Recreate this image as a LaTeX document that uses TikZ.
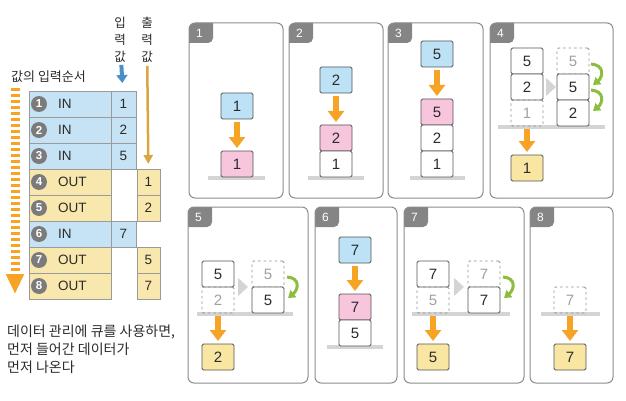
\documentclass[tikz,border=0pt]{standalone}
\usepackage{fontspec}
\setmainfont{Liberation Sans}
\newfontfamily\krfont{Noto Sans CJK KR}
\usetikzlibrary{arrows.meta}

\definecolor{tblblue}{HTML}{C5E3F4}
\definecolor{tblyellow}{HTML}{F9E8AE}
\definecolor{boxblue}{HTML}{BDE2F6}
\definecolor{boxpink}{HTML}{F7C5DC}
\definecolor{boxyellow}{HTML}{F8E6A2}
\definecolor{orng}{HTML}{F6A326}
\definecolor{gold}{HTML}{D9A63F}
\definecolor{arrblue}{HTML}{4B8FC7}
\definecolor{leaf}{HTML}{8CBD3C}
\definecolor{panelline}{HTML}{8C8C8C}
\definecolor{tabgray}{HTML}{858585}
\definecolor{shelfgray}{HTML}{D4D4D4}
\definecolor{circgray}{HTML}{7B7B7B}
\definecolor{boxline}{HTML}{555555}
\definecolor{cellline}{HTML}{9A9A9A}
\definecolor{ghostline}{HTML}{909090}
\definecolor{ghosttext}{HTML}{A0A0A0}
\definecolor{darktext}{HTML}{2B2B2B}

\tikzset{
  qbox/.style={draw=boxline, line width=0.9pt, rounded corners=1.5pt,
    minimum width=32pt, minimum height=26pt, inner sep=0pt, outer sep=0pt,
    font=\fontsize{15}{15}\selectfont, text=darktext},
  qblue/.style={qbox, fill=boxblue},
  qpink/.style={qbox, fill=boxpink},
  qyel/.style={qbox, fill=boxyellow},
  qwhite/.style={qbox, fill=white},
  qghost/.style={qbox, draw=ghostline, dash pattern=on 2.5pt off 3pt, text=ghosttext},
  putarr/.style={draw=orng, line width=6.5pt, -{Triangle[width=16pt,length=11pt]},
    shorten <=3pt, shorten >=3pt},
  greenarr/.style={draw=leaf, line width=3pt, -{Triangle[width=9pt,length=7pt]}},
  shelf/.style={draw=shelfgray, line width=4pt},
  tri/.style={fill=shelfgray},
  panel/.style={draw=panelline, line width=1pt, rounded corners=6pt, inner sep=0pt,
    path picture={\fill[tabgray, rounded corners=5pt]
      ([shift={(-8pt,8pt)}]path picture bounding box.north west) rectangle
      ([shift={(24pt,-20pt)}]path picture bounding box.north west);}},
  tabnum/.style={text=white, font=\fontsize{12}{12}\selectfont, inner sep=0pt},
  rowcell/.style={draw=cellline, line width=0.6pt, minimum height=26pt, inner sep=0pt,
    outer sep=0pt, font=\fontsize{13.5}{13.5}\selectfont, text=darktext},
  numcirc/.style={circle, fill=circgray, minimum size=16pt, inner sep=0pt, text=white,
    font=\fontsize{11.5}{11.5}\selectfont\bfseries},
  optext/.style={anchor=west, inner sep=0pt, font=\fontsize{13.5}{13.5}\selectfont, text=darktext},
  krtext/.style={font=\krfont\fontsize{14}{18}\selectfont, text=darktext, inner sep=0pt},
  krhead/.style={krtext, font=\krfont\fontsize{12.5}{17}\selectfont, align=center}
}

\begin{document}
\begin{tikzpicture}[x=1pt,y=-1pt]
\useasboundingbox (0,0) rectangle (626,401);

% table of operations
\node[krtext, anchor=west, font=\krfont\fontsize{13}{13}\selectfont] (ordlabel) at (11,77) {값의 입력순서};
\node[krhead] (inhdr) at (120,40) {입\\력\\값};
\node[krhead] (outhdr) at (147,40) {출\\력\\값};
\foreach \i/\v in {1/1, 2/2, 3/5, 6/7}{
  \node[rowcell, fill=tblblue, minimum width=82pt] (lab\i) at (70,{78+26*\i}) {};
  \node[rowcell, fill=tblblue, minimum width=25pt] (in\i) at (123.5,{78+26*\i}) {\v};
  \node[optext] (op\i) at (58,{78+26*\i}) {IN};}
\foreach \i/\v in {4/1, 5/2, 7/5, 8/7}{
  \node[rowcell, fill=tblyellow, minimum width=82pt] (lab\i) at (70,{78+26*\i}) {};
  \node[rowcell, fill=tblyellow, minimum width=23pt] (out\i) at (148.5,{78+26*\i}) {\v};
  \node[optext] (op\i) at (58,{78+26*\i}) {OUT};}
\foreach \i in {1,...,8}
  \node[numcirc] (circ\i) at (39,{78+26*\i}) {\i};
\draw[draw=arrblue, line width=4pt, -{Triangle[width=11pt,length=8pt]},
  shorten <=2pt, shorten >=8pt] (inhdr) -- (in1);
\draw[draw=gold, line width=2.5pt, -{Triangle[width=9pt,length=9pt]},
  shorten <=3pt, shorten >=5pt] (outhdr) -- (out4);
\coordinate (ordtop) at (15,88);
\coordinate (ordbot) at (15,294);
\draw[draw=orng, line width=9pt, dash pattern=on 3pt off 3pt,
  -{Triangle[width=17pt,length=20pt]}] (ordtop) -- (ordbot);
\node[krtext, anchor=north west, align=left] (note) at (7,325)
  {데이터 관리에 큐를 사용하면,\\먼저 들어간 데이터가\\먼저 나온다};

% panels
\foreach \n/\cx/\cy/\w/\h in {1/236/110.5/94/175, 2/336/110.5/94/175, 3/435.5/110.5/95/175,
  4/551.5/110.5/123/175, 5/248/295/120/176, 6/356/295/82/176, 7/464/295/120/176,
  8/571.5/295/83/176}{
  \node[panel, minimum width=\w pt, minimum height=\h pt] (pan\n) at (\cx,\cy) {};
  \node[tabnum] (tab\n) at ([shift={(11pt,-10.5pt)}]pan\n.north west) {\n};}

% 1
\draw[shelf] (208,178) -- (265,178);
\node[qblue] (p1in) at (237,106) {1};
\node[qpink] (p1a) at (237,164) {1};
\draw[putarr] (p1in) -- (p1a);
% 2
\draw[shelf] (308,178) -- (364,178);
\node[qblue] (p2in) at (336,80) {2};
\node[qpink] (p2b) at (336,138) {2};
\node[qwhite] (p2a) at (336,164) {1};
\draw[putarr] (p2in) -- (p2b);
% 3
\draw[shelf] (410,178) -- (465,178);
\node[qblue] (p3in) at (437,54) {5};
\node[qpink] (p3c) at (437,112) {5};
\node[qwhite] (p3b) at (437,138) {2};
\node[qwhite] (p3a) at (437,164) {1};
\draw[putarr] (p3in) -- (p3c);
% 4
\draw[shelf] (498,127) -- (605,127);
\fill[tri] (546,78) -- (556,87) -- (546,96) -- cycle;
\node[qwhite] (p4l5) at (527,61) {5};
\node[qwhite] (p4l2) at (527,87) {2};
\node[qghost] (p4g1) at (527,113) {1};
\node[qghost] (p4g5) at (573,61) {5};
\node[qwhite] (p4w5) at (573,87) {5};
\node[qwhite] (p4w2) at (573,113) {2};
\node[qyel] (p4out) at (527,168) {1};
\draw[putarr] (p4g1) -- (p4out);
\draw[greenarr] ([shift={(2pt,-3pt)}]p4g5.east) .. controls +(14,1) and +(10,-8) .. ([shift={(4pt,2pt)}]p4w5.east);
\draw[greenarr] ([shift={(2pt,-3pt)}]p4w5.east) .. controls +(14,1) and +(10,-8) .. ([shift={(4pt,2pt)}]p4w2.east);
% 5
\draw[shelf] (197,314) -- (293,314);
\fill[tri] (238,278) -- (248,287) -- (238,296) -- cycle;
\node[qwhite] (p5l5) at (218,274) {5};
\node[qghost] (p5g2) at (218,300) {2};
\node[qghost] (p5g5) at (268,274) {5};
\node[qwhite] (p5w5) at (268,300) {5};
\node[qyel] (p5out) at (218,357) {2};
\draw[putarr] (p5g2) -- (p5out);
\draw[greenarr] ([shift={(3pt,-3pt)}]p5g5.east) .. controls +(14,1) and +(10,-8) .. ([shift={(4pt,2pt)}]p5w5.east);
% 6
\draw[shelf] (327,347) -- (383,347);
\node[qblue] (p6in) at (355,250) {7};
\node[qpink] (p6b) at (355,307) {7};
\node[qwhite] (p6a) at (355,333) {5};
\draw[putarr] (p6in) -- (p6b);
% 7
\draw[shelf] (412,314) -- (510,314);
\fill[tri] (454,278) -- (464,287) -- (454,296) -- cycle;
\node[qwhite] (p7l7) at (433,274) {7};
\node[qghost] (p7g5) at (433,300) {5};
\node[qghost] (p7g7) at (484,274) {7};
\node[qwhite] (p7w7) at (484,300) {7};
\node[qyel] (p7out) at (433,357) {5};
\draw[putarr] (p7g5) -- (p7out);
\draw[greenarr] ([shift={(3pt,-3pt)}]p7g7.east) .. controls +(14,1) and +(10,-8) .. ([shift={(4pt,2pt)}]p7w7.east);
% 8
\draw[shelf] (541,314) -- (600,314);
\node[qghost] (p8g7) at (570,300) {7};
\node[qyel] (p8out) at (570,357) {7};
\draw[putarr] (p8g7) -- (p8out);
\end{tikzpicture}
\end{document}
